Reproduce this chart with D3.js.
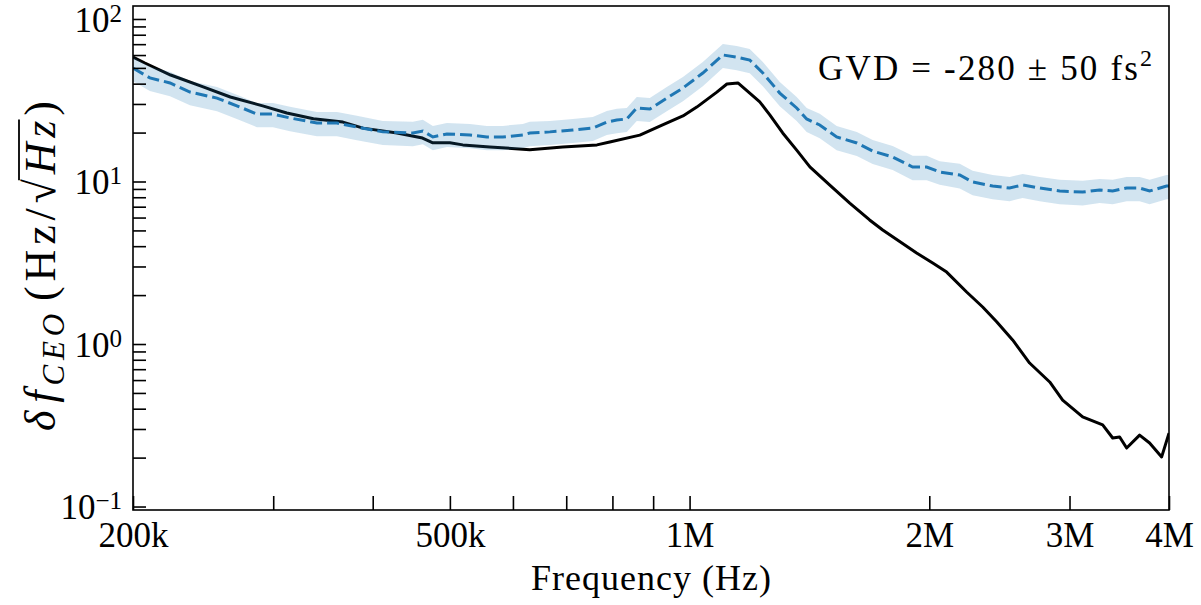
<!DOCTYPE html>
<html><head><meta charset="utf-8">
<script src="https://cdn.jsdelivr.net/npm/d3@7"></script>
<style>
body{margin:0;background:#fff}
svg{display:block;background:#fff}
</style>
</head><body>
<svg id="c" width="1201" height="605"></svg>
<script>
// ---- data (frequency in Hz, noise in Hz/sqrt(Hz)) ----
const blackFreq = [200e3,207e3,223e3,245e3,265e3,291e3,312e3,337e3,367e3,389e3,429e3,462e3,476e3,500e3,519e3,561e3,630e3,693e3,765e3,794e3,866e3,925e3,981e3,1021e3,1082e3,1114e3,1150e3,1190e3,1225e3,1261e3,1309e3,1363e3,1416e3,1500e3,1589e3,1683e3,1748e3,1928e3,2020e3,2103e3,2228e3,2334e3,2430e3,2545e3,2673e3,2833e3,2941e3,3116e3,3302e3,3399e3,3468e3,3539e3,3674e3,3782e3,3916e3,4000e3];
const blackVal  = [58.3,53.6,45.2,38.2,33.1,29.2,26.4,24.3,23.2,21.3,19.9,18.5,17.3,17.3,16.8,16.3,15.7,16.3,16.8,17.5,19.3,22.3,25.3,28.7,35.5,39.8,40.4,35.0,30.9,25.7,19.9,15.6,12.3,9.5,7.37,5.80,5.03,3.63,3.15,2.77,2.09,1.69,1.37,1.06,0.764,0.584,0.452,0.356,0.318,0.264,0.268,0.229,0.275,0.246,0.202,0.283];

const blueFreq = [200e3,210e3,222.6e3,235.8e3,255e3,272.5e3,286.2e3,299.8e3,314.9e3,340.4e3,360.7e3,382.1e3,411.9e3,449.3e3,462.4e3,476e3,495.7e3,529.8e3,556.4e3,582.7e3,617.4e3,630e3,667.7e3,713.6e3,755.9e3,787.1e3,810.1e3,833.9e3,858.4e3,891.3e3,936.2e3,981e3,1039e3,1101e3,1146e3,1190e3,1236e3,1298e3,1363e3,1403e3,1457e3,1530e3,1622e3,1698e3,1799e3,1906e3,1985e3,2061e3,2184e3,2267e3,2402e3,2523e3,2620e3,2752e3,2916e3,3116e3,3273e3,3399e3,3539e3,3674e3,3782e3,3972e3,4000e3];
const blueVal  = [49.9,43.4,40.4,35.5,32.6,28.7,26.0,26.0,24.6,22.9,22.9,21.65,20.2,19.88,20.45,18.79,19.6,19.32,18.79,18.79,19.32,19.88,20.2,20.75,21.34,23.23,23.9,24.25,28.35,27.9,32.6,37.6,46.5,60.05,58.3,55.9,46.5,35.0,28.35,24.25,22.27,18.79,17.26,15.40,14.15,12.28,12.28,11.44,10.96,9.93,9.38,9.12,9.52,9.12,8.74,8.61,8.87,8.74,9.12,9.12,8.74,9.38,9.38];
const blueSpread = [8.5,7.4,6.9,6.0,5.5,4.9,4.4,4.4,4.2,3.9,3.9,3.7,3.4,3.4,3.5,3.2,3.3,3.3,3.2,3.2,3.3,3.4,3.4,3.5,3.6,3.9,4.1,4.1,4.8,4.7,5.5,6.4,7.9,10.2,9.9,9.5,7.9,6.0,4.8,4.1,3.8,3.2,2.9,2.6,2.4,2.1,2.1,1.9,1.9,1.7,1.6,1.55,1.6,1.55,1.5,1.5,1.5,1.5,1.55,1.55,1.5,1.6,1.6];

const xMajorTicks = [2e5,5e5,1e6,2e6,3e6,4e6];
const xTickLabels = ["200k","500k","1M","2M","3M","4M"];
const xMinorTicks = [3e5,4e5,6e5,7e5,8e5,9e5];
const yMajorTicks = [0.1,1,10,100];
const yTickExponents = ["\u22121","0","1","2"];
const xLabel = "Frequency (Hz)";
const annotation = ["GVD = -280 \u00B1 50 fs","2"];

const FONT = "'Liberation Serif','Times New Roman',Times,'DejaVu Serif',serif";

// ---- layout ----
const m = {l:133, r:1169, t:6, b:510};
const svg = d3.select("#c");
const x = d3.scaleLog().domain([2e5,4e6]).range([m.l,m.r]);
const y = d3.scaleLog().domain([0.0952,120.2]).range([m.b,m.t]);

svg.append("defs").append("clipPath").attr("id","clip")
  .append("rect").attr("x",m.l).attr("y",m.t).attr("width",m.r-m.l).attr("height",m.b-m.t);
const plot = svg.append("g").attr("clip-path","url(#clip)");

const black = blackFreq.map((f,i)=>({f, v:blackVal[i]}));
const blue = blueFreq.map((f,i)=>({f, v:blueVal[i], s:blueSpread[i]}));

plot.append("path").datum(black)
  .attr("d", d3.line().x(d=>x(d.f)).y(d=>y(d.v)))
  .attr("fill","none").attr("stroke","#000").attr("stroke-width",3).attr("stroke-linejoin","round");

plot.append("path").datum(blue)
  .attr("d", d3.area().x(d=>x(d.f)).y0(d=>y(d.v-d.s)).y1(d=>y(d.v+d.s)))
  .attr("fill","#1f77b4").attr("fill-opacity",0.2).attr("stroke","none");

plot.append("path").datum(blue)
  .attr("d", d3.line().x(d=>x(d.f)).y(d=>y(d.v)))
  .attr("fill","none").attr("stroke","#1f77b4").attr("stroke-width",3)
  .attr("stroke-dasharray","12,5");

// ---- axes ----
const yMinor = [];
[-1,0,1].forEach(e=>{ for(let k=2;k<=9;k++) yMinor.push(k*Math.pow(10,e)); });

const xAx = svg.append("g").attr("transform",`translate(0,${m.b})`)
  .call(d3.axisBottom(x).tickValues(xMajorTicks.concat(xMinorTicks))
    .tickSizeInner(-14).tickSizeOuter(0).tickPadding(12)
    .tickFormat(d=>{const i=xMajorTicks.indexOf(d); return i>=0?xTickLabels[i]:"";}));
xAx.attr("font-family",null).attr("font-size",null);
xAx.select(".domain").remove();
xAx.selectAll(".tick line").attr("stroke","#000").attr("stroke-width",1.6);
xAx.selectAll(".tick text").style("font-family",FONT).style("font-size","35px").attr("fill","#000");

const yAx = svg.append("g").attr("transform",`translate(${m.l},0)`)
  .call(d3.axisLeft(y).tickValues(yMajorTicks.concat(yMinor))
    .tickSizeInner(-13).tickSizeOuter(0).tickFormat(""));
yAx.select(".domain").remove();
yAx.selectAll(".tick line").attr("stroke","#000").attr("stroke-width",1.6);

const yl = svg.append("g");
yMajorTicks.forEach((v,i)=>{
  const t = yl.append("text").attr("x",m.l-11).attr("y",y(v)).attr("dy","0.36em")
    .attr("text-anchor","end").style("font-family",FONT).style("font-size","35px");
  t.append("tspan").text("10");
  t.append("tspan").attr("dy","-0.4em").style("font-size","25px").text(yTickExponents[i]);
});

// frame
svg.append("rect").attr("x",m.l).attr("y",m.t).attr("width",m.r-m.l).attr("height",m.b-m.t)
  .attr("fill","none").attr("stroke","#000").attr("stroke-width",1.6);

// x label
svg.append("text").attr("x",(m.l+m.r)/2).attr("y",590).attr("text-anchor","middle")
  .style("font-family",FONT).style("font-size","36px")
  .attr("textLength",240).attr("lengthAdjust","spacing").text(xLabel);

// annotation
const an = svg.append("text").attr("x",818).attr("y",80)
  .style("font-family",FONT).style("font-size","35px")
  .attr("textLength",334).attr("lengthAdjust","spacing");
an.append("tspan").text(annotation[0]);
an.append("tspan").attr("dy",-14).style("font-size","24px").text(annotation[1]);

// y label
const gl = svg.append("g").attr("transform",`translate(55,266) rotate(-90)`);
const yt = gl.append("text").attr("text-anchor","middle").style("font-family",FONT).style("font-size","44px")
  .attr("textLength",330).attr("lengthAdjust","spacing");
yt.append("tspan").style("font-style","italic").text("\u03B4");
yt.append("tspan").style("font-style","italic").attr("dx",3).text("f");
yt.append("tspan").style("font-style","italic").style("font-size","31px").attr("dy",9).text("CEO");
yt.append("tspan").attr("dy",-9).attr("dx",8).text("(Hz/");
yt.append("tspan").text("\u221A");
yt.append("tspan").style("font-style","italic").text("Hz");
yt.append("tspan").text(")");
const node = yt.node();
const rs = node.getExtentOfChar(9), rz = node.getExtentOfChar(11);
gl.append("line").attr("x1",rs.x+rs.width-1).attr("x2",rz.x+rz.width+1)
  .attr("y1",rs.y+3).attr("y2",rs.y+3).attr("stroke","#000").attr("stroke-width",1.8);
</script>
</body></html>
